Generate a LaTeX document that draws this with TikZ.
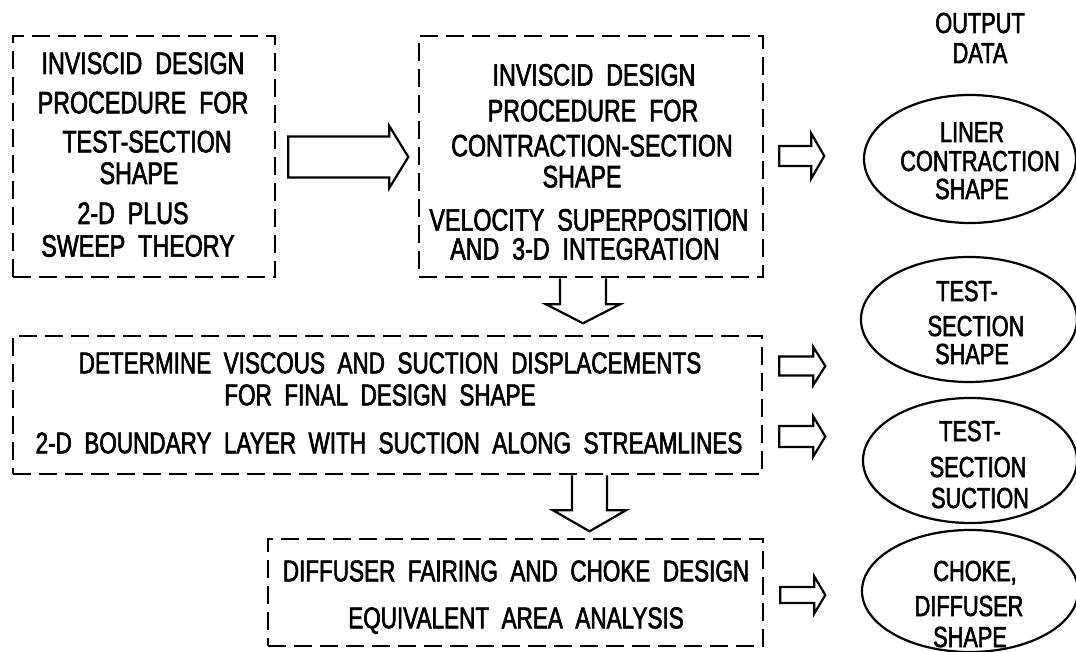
\documentclass[tikz,border=0pt]{standalone}
\usepackage{fontspec}
\setmainfont{Liberation Sans}[FakeStretch=0.75, WordSpace=2.0, FakeBold=2]
\usetikzlibrary{shapes.geometric,calc}

% outlined block arrow pointing right: start, length, shaft half-width, head half-width, head length
\newcommand\blockright[5]{%
  \draw[blk] (#1) ++(0,{-#3}) -- ++({#2-#5},0) -- ++(0,{-(#4-#3)}) -- ++(#5,#4)
    -- ++({-#5},#4) -- ++(0,{-(#4-#3)}) -- ++({-(#2-#5)},0) -- cycle;}
% outlined block arrow pointing down, open at its top: start, length, shaft half-width, head half-width, head length
\newcommand\blockdown[5]{%
  \draw[blk] ($(#1)+({-#3},0)$) -- ++(0,{#2-#5}) -- ++({-(#4-#3)},0) -- ++(#4,#5)
    -- ++(#4,{-#5}) -- ++({-(#4-#3)},0) -- ++(0,{-(#2-#5)});}

\begin{document}
\begin{tikzpicture}[x=1pt,y=-1pt,
  dashbox/.style={draw, line width=2.6pt, dash pattern=on 18pt off 8pt, inner sep=0pt},
  outbox/.style={ellipse, draw, line width=2.2pt, inner sep=0pt},
  blk/.style={line width=2.2pt, line join=miter},
  lbl/.style={inner sep=0pt, text height=20.6pt, text depth=0pt, font=\fontsize{30}{32}\selectfont},
  lblbig/.style={lbl, text height=21.3pt, font=\fontsize{31}{33}\selectfont},
  lblout/.style={lbl, text height=20pt, font=\fontsize{29}{31}\selectfont}]
\useasboundingbox (0,0) rectangle (1076,652);

% process boxes
\node[dashbox, minimum width=262pt, minimum height=241pt] (b1) at (144,156.5) {};
\node[dashbox, minimum width=344pt, minimum height=241pt] (b2) at (591,156.5) {};
\node[dashbox, minimum width=749pt, minimum height=138pt] (b3) at (387.5,405) {};
\node[dashbox, minimum width=495pt, minimum height=107pt] (b4) at (515.5,592.5) {};

% output data
\node[outbox, minimum width=212pt, minimum height=128pt] (e1) at (970,159) {};
\node[outbox, minimum width=216pt, minimum height=125pt] (e2) at (969,319.5) {};
\node[outbox, minimum width=214pt, minimum height=125pt] (e3) at (970,460.5) {};
\node[outbox, minimum width=216pt, minimum height=122pt] (e4) at (970,591) {};

% box texts
\node[lblbig] (b1a) at (143,63.3) {INVISCID DESIGN};
\node[lblbig] (b1b) at (143,102.7) {PROCEDURE FOR};
\node[lblbig] (b1c) at (147,141.7) {TEST-SECTION};
\node[lblbig] (b1d) at (139,173.3) {SHAPE};
\node[lblbig] (b1e) at (133,213.3) {2-D PLUS};
\node[lblbig] (b1f) at (138,246) {SWEEP THEORY};

\node[lblbig] (b2a) at (594,75) {INVISCID DESIGN};
\node[lblbig] (b2b) at (593,110.7) {PROCEDURE FOR};
\node[lblbig] (b2c) at (592,145.7) {CONTRACTION-SECTION};
\node[lblbig] (b2d) at (582,176.7) {SHAPE};
\node[lblbig] (b2e) at (589,220) {VELOCITY SUPERPOSITION};
\node[lblbig] (b2f) at (585,249) {AND 3-D INTEGRATION};

\node[lbl] (b3a) at (390,363) {DETERMINE VISCOUS AND SUCTION DISPLACEMENTS};
\node[lbl] (b3b) at (380,395) {FOR FINAL DESIGN SHAPE};
\node[lbl] (b3c) at (389,443) {2-D BOUNDARY LAYER WITH SUCTION ALONG STREAMLINES};

\node[lbl] (b4a) at (516,571) {DIFFUSER FAIRING AND CHOKE DESIGN};
\node[lbl] (b4b) at (516,618) {EQUIVALENT AREA ANALYSIS};

% output texts
\node[lblout] (hd1) at (980,23) {OUTPUT};
\node[lblout] (hd2) at (980,53) {DATA};

\node[lblout] (e1a) at (972,132) {LINER};
\node[lblout] (e1b) at (980,161) {CONTRACTION};
\node[lblout] (e1c) at (972,189) {SHAPE};

\node[lblout] (e2a) at (967,291) {TEST-};
\node[lblout] (e2b) at (976,326) {SECTION};
\node[lblout] (e2c) at (972,354) {SHAPE};

\node[lblout] (e3a) at (970,431) {TEST-};
\node[lblout] (e3b) at (978,467) {SECTION};
\node[lblout] (e3c) at (980,498) {SUCTION};

\node[lblout] (e4a) at (975,571) {CHOKE,};
\node[lblout] (e4b) at (969,606) {DIFFUSER};
\node[lblout] (e4c) at (970,637) {SHAPE};

% connectors
\coordinate (a1) at ($(b1.east)+(12,0.5)$);
\coordinate (a2) at ($(b2.east)+(15,-0.5)$);
\coordinate (a3) at ($(b3.east)+(16,-39)$);
\coordinate (a4) at ($(b3.east)+(16,31.5)$);
\coordinate (a5) at ($(b4.east)+(16,2.5)$);
\coordinate (d1) at ($(b2.south)+(-8,0)$);
\coordinate (d2) at ($(b3.south)+(202,0)$);

\blockright{a1}{120}{20.5}{31}{19}
\blockright{a2}{45}{10}{22.5}{13}
\blockright{a3}{46}{9.5}{19}{12}
\blockright{a4}{46}{10.5}{20}{12}
\blockright{a5}{45}{8}{18.5}{11}
\blockdown{d1}{45}{23}{37}{19}
\blockdown{d2}{56}{17.5}{36.5}{21}
\end{tikzpicture}
\end{document}
